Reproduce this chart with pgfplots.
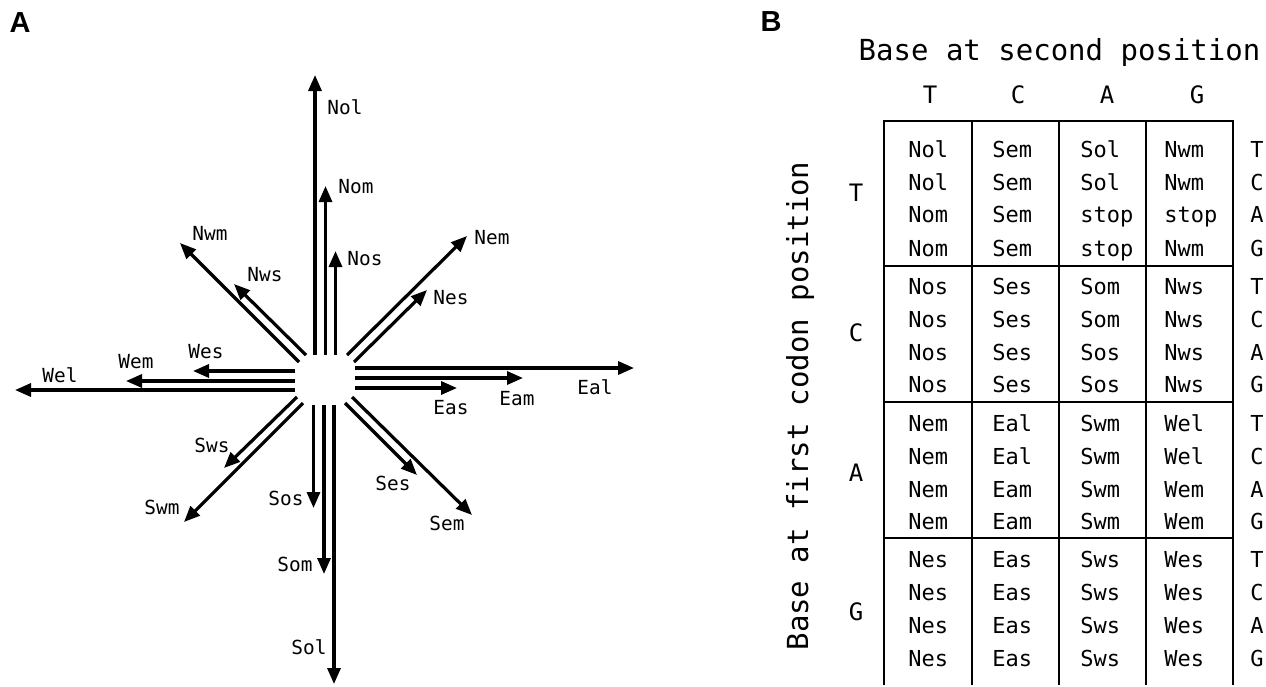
\documentclass[border=0pt]{standalone}
\usepackage{pgfplots}
\pgfplotsset{compat=1.18}
\usetikzlibrary{arrows.meta}
\usepackage{fontspec}
\setmainfont{DejaVu Sans Mono}
\newfontfamily\bsans{Liberation Sans}
\newcommand{\lbl}{\fontsize{9.7pt}{11pt}\selectfont}
\newcommand{\cell}{\fontsize{11pt}{13pt}\selectfont}
\newcommand{\hdr}{\fontsize{12pt}{14pt}\selectfont}
\newcommand{\ttl}{\fontsize{14.5pt}{17pt}\selectfont}
\begin{document}
\begin{tikzpicture}
\begin{axis}[
  width=633pt, height=342.5pt, scale only axis,
  xmin=0, xmax=1266, ymin=0, ymax=685, y dir=reverse,
  hide axis, clip=false,
  arr/.style={black, line width=1.6pt, line cap=butt, -{Triangle[length=8pt,width=6.5pt]}},
  grd/.style={black, line width=1pt},
]
% invisible frame: keeps the picture exactly the size of the axis
\addplot[draw=none, forget plot] coordinates {(0,0) (1266,685)};
% ---------- Panel A: arrows ----------
% North
\addplot[arr] coordinates {(315,355) (315,75)};
\addplot[arr] coordinates {(325.5,355) (325.5,186)};
\addplot[arr] coordinates {(335.5,355) (335.5,251)};
% South
\addplot[arr] coordinates {(313.5,405) (313.5,508)};
\addplot[arr] coordinates {(324,405) (324,574)};
\addplot[arr] coordinates {(334,405) (334,684)};
% East
\addplot[arr] coordinates {(355,368) (634,368)};
\addplot[arr] coordinates {(355,378) (523,378)};
\addplot[arr] coordinates {(355,388) (457,388)};
% West
\addplot[arr] coordinates {(295,371) (193,371)};
\addplot[arr] coordinates {(295,381) (126,381)};
\addplot[arr] coordinates {(295,390) (15,390)};
% North-east
\addplot[arr] coordinates {(347,355) (467,236)};
\addplot[arr] coordinates {(354,362) (427,290)};
% North-west
\addplot[arr] coordinates {(299,362) (180,243)};
\addplot[arr] coordinates {(306,355) (234,284)};
% South-west
\addplot[arr] coordinates {(297,397) (224,468)};
\addplot[arr] coordinates {(303,403) (184,522)};
% South-east
\addplot[arr] coordinates {(345,403) (417,475)};
\addplot[arr] coordinates {(352,397) (472,515)};
% labels
\node[anchor=west, inner sep=0pt, font=\lbl] at (axis cs:327,107) {Nol};
\node[anchor=west, inner sep=0pt, font=\lbl] at (axis cs:338,187) {Nom};
\node[anchor=west, inner sep=0pt, font=\lbl] at (axis cs:347,259) {Nos};
\node[anchor=west, inner sep=0pt, font=\lbl] at (axis cs:192,233) {Nwm};
\node[anchor=west, inner sep=0pt, font=\lbl] at (axis cs:247,275) {Nws};
\node[anchor=west, inner sep=0pt, font=\lbl] at (axis cs:474,238) {Nem};
\node[anchor=west, inner sep=0pt, font=\lbl] at (axis cs:433,298) {Nes};
\node[anchor=west, inner sep=0pt, font=\lbl] at (axis cs:188,352) {Wes};
\node[anchor=west, inner sep=0pt, font=\lbl] at (axis cs:118,362) {Wem};
\node[anchor=west, inner sep=0pt, font=\lbl] at (axis cs:42,375) {Wel};
\node[anchor=west, inner sep=0pt, font=\lbl] at (axis cs:577,387) {Eal};
\node[anchor=west, inner sep=0pt, font=\lbl] at (axis cs:499,399) {Eam};
\node[anchor=west, inner sep=0pt, font=\lbl] at (axis cs:433,408) {Eas};
\node[anchor=west, inner sep=0pt, font=\lbl] at (axis cs:194,445) {Sws};
\node[anchor=west, inner sep=0pt, font=\lbl] at (axis cs:144,507) {Swm};
\node[anchor=west, inner sep=0pt, font=\lbl] at (axis cs:268,498) {Sos};
\node[anchor=west, inner sep=0pt, font=\lbl] at (axis cs:277,564) {Som};
\node[anchor=west, inner sep=0pt, font=\lbl] at (axis cs:291,647) {Sol};
\node[anchor=west, inner sep=0pt, font=\lbl] at (axis cs:375,483) {Ses};
\node[anchor=west, inner sep=0pt, font=\lbl] at (axis cs:429,523) {Sem};
% panel letters
\node[inner sep=0pt, font=\bsans\bfseries\fontsize{14.5pt}{16pt}\selectfont] at (axis cs:20,23) {A};
\node[inner sep=0pt, font=\bsans\bfseries\fontsize{14.5pt}{16pt}\selectfont] at (axis cs:771,22) {B};
% ---------- Panel B: table ----------
\addplot[grd] coordinates {(884,685) (884,121) (1233,121) (1233,685)};
\addplot[grd] coordinates {(972,121) (972,685)};
\addplot[grd] coordinates {(1059,121) (1059,685)};
\addplot[grd] coordinates {(1146,121) (1146,685)};
\addplot[grd] coordinates {(884,266) (1233,266)};
\addplot[grd] coordinates {(884,402) (1233,402)};
\addplot[grd] coordinates {(884,538) (1233,538)};
\node[inner sep=0pt, font=\ttl] at (axis cs:1059.5,52) {Base at second position};
\node[inner sep=0pt, font=\ttl, rotate=90] at (axis cs:800,406) {Base at first codon position};
\node[inner sep=0pt, font=\hdr] at (axis cs:930,95) {T};
\node[inner sep=0pt, font=\hdr] at (axis cs:1018,95) {C};
\node[inner sep=0pt, font=\hdr] at (axis cs:1107,95) {A};
\node[inner sep=0pt, font=\hdr] at (axis cs:1197,95) {G};
\node[inner sep=0pt, font=\hdr] at (axis cs:856,193) {T};
\node[inner sep=0pt, font=\hdr] at (axis cs:856,333) {C};
\node[inner sep=0pt, font=\hdr] at (axis cs:856,473) {A};
\node[inner sep=0pt, font=\hdr] at (axis cs:856,612) {G};
\foreach \yb/\t/\c/\a/\g/\p in {
  157/Nol/Sem/Sol/Nwm/T, 190/Nol/Sem/Sol/Nwm/C, 222/Nom/Sem/stop/stop/A, 256/Nom/Sem/stop/Nwm/G,
  294/Nos/Ses/Som/Nws/T, 327/Nos/Ses/Som/Nws/C, 360/Nos/Ses/Sos/Nws/A, 392/Nos/Ses/Sos/Nws/G,
  431/Nem/Eal/Swm/Wel/T, 464/Nem/Eal/Swm/Wel/C, 497/Nem/Eam/Swm/Wem/A, 529/Nem/Eam/Swm/Wem/G,
  567/Nes/Eas/Sws/Wes/T, 600/Nes/Eas/Sws/Wes/C, 633/Nes/Eas/Sws/Wes/A, 666/Nes/Eas/Sws/Wes/G} {
  \edef\temp{\noexpand\node[anchor=base west, inner sep=0pt, font=\noexpand\cell] at (axis cs:908,\yb) {\t};
    \noexpand\node[anchor=base west, inner sep=0pt, font=\noexpand\cell] at (axis cs:992,\yb) {\c};
    \noexpand\node[anchor=base west, inner sep=0pt, font=\noexpand\cell] at (axis cs:1080,\yb) {\a};
    \noexpand\node[anchor=base west, inner sep=0pt, font=\noexpand\cell] at (axis cs:1164,\yb) {\g};
    \noexpand\node[anchor=base, inner sep=0pt, font=\noexpand\cell] at (axis cs:1257,\yb) {\p};}
  \temp
}
\end{axis}
\end{tikzpicture}
\end{document}
